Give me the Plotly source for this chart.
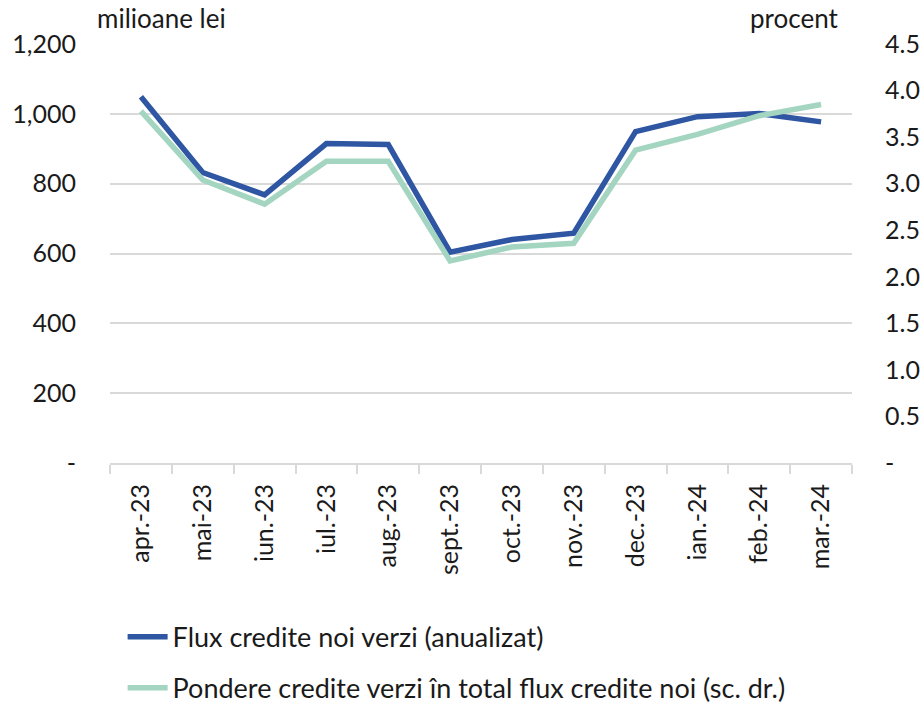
import plotly.graph_objects as go

categories = ["apr.-23", "mai-23", "iun.-23", "iul.-23", "aug.-23", "sept.-23",
              "oct.-23", "nov.-23", "dec.-23", "ian.-24", "feb.-24", "mar.-24"]
flux_credite = [1049, 832, 768, 915, 912, 604, 640, 658, 949, 992, 1001, 977]
pondere = [3.78, 3.04, 2.78, 3.24, 3.24, 2.17, 2.32, 2.36, 3.36, 3.53, 3.73, 3.85]

left_ticks = [0, 200, 400, 600, 800, 1000, 1200]
left_labels = ["-", "200", "400", "600", "800", "1,000", "1,200"]
right_ticks = [0, 0.5, 1.0, 1.5, 2.0, 2.5, 3.0, 3.5, 4.0, 4.5]
right_labels = ["-", "0.5", "1.0", "1.5", "2.0", "2.5", "3.0", "3.5", "4.0", "4.5"]

FONT = "Lato"
TXT = "#1a1a1a"
BLUE = "#2F56A2"
GREEN = "#A3D5C0"

fig = go.Figure()
fig.add_trace(go.Scatter(x=categories, y=flux_credite, mode="lines",
                         name="Flux credite noi verzi (anualizat)",
                         line=dict(color=BLUE, width=5.5), legendgroup="a"))
fig.add_trace(go.Scatter(x=categories, y=pondere, mode="lines", yaxis="y2",
                         name="Pondere credite verzi în total flux credite noi (sc. dr.)",
                         line=dict(color=GREEN, width=5.5), legendgroup="b"))

fig.update_layout(
    width=924, height=709,
    margin=dict(l=110, r=72, t=44, b=246, autoexpand=False),
    paper_bgcolor="white", plot_bgcolor="white",
    font=dict(family=FONT, size=25, color=TXT),
    showlegend=True,
    legend=dict(x=0.017, y=-0.357, xanchor="left", yanchor="top",
                orientation="v", tracegroupgap=13, itemwidth=40,
                font=dict(family=FONT, size=27, color=TXT),
                bgcolor="rgba(0,0,0,0)"),
    xaxis=dict(type="category", range=[-0.5, 11.5], tickson="boundaries",
               ticks="outside", ticklen=9, tickcolor="#D9D9D9", tickwidth=2,
               showline=True, linecolor="#D9D9D9", linewidth=2, showgrid=False,
               tickangle=-90, tickfont=dict(size=25), ticklabelstandoff=9,
               automargin=False),
    yaxis=dict(range=[0, 1200], tickvals=left_ticks, ticktext=left_labels,
               showgrid=True, gridcolor="#D9D9D9", gridwidth=2,
               zeroline=False, showline=False, ticks="",
               ticklabelstandoff=33, automargin=False),
    yaxis2=dict(range=[0, 4.5], tickvals=right_ticks, ticktext=right_labels,
                overlaying="y", side="right", showgrid=False,
                zeroline=False, showline=False, ticks="",
                ticklabelstandoff=32, automargin=False),
    annotations=[
        dict(text="milioane lei", xref="paper", yref="paper", x=-0.020, y=1.0,
             xanchor="left", yanchor="middle", yshift=26, showarrow=False,
             font=dict(family=FONT, size=26, color=TXT)),
        dict(text="procent", xref="paper", yref="paper", x=0.984, y=1.0,
             xanchor="right", yanchor="middle", yshift=26, showarrow=False,
             font=dict(family=FONT, size=26, color=TXT)),
    ],
)

fig.write_html("out.html", config={"displayModeBar": False},
               post_script="document.body.style.margin='0';")
